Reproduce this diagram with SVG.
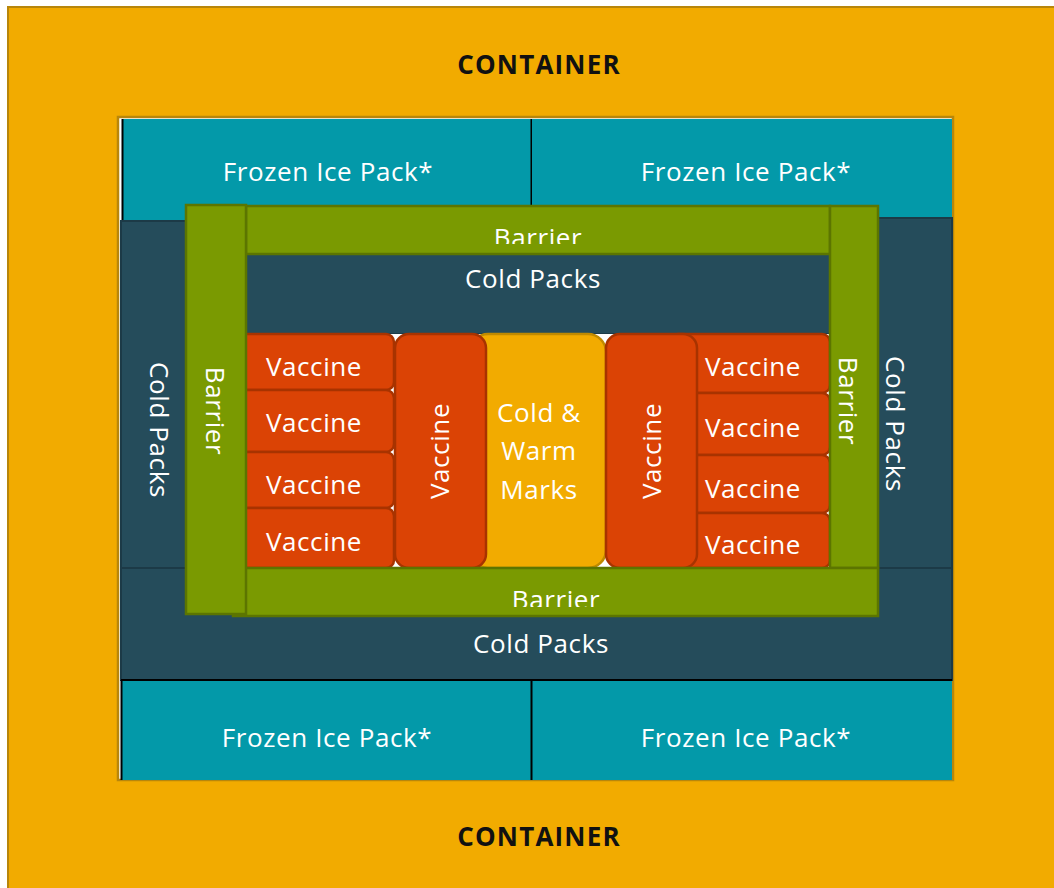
<svg xmlns="http://www.w3.org/2000/svg" width="1054" height="888" viewBox="0 0 1054 888">
<style>
text{font-family:"Open Sans","Liberation Sans",sans-serif;fill:#fff;font-size:26px;letter-spacing:0.6px;text-anchor:middle;dominant-baseline:central}
.title{fill:#111;font-weight:bold;font-size:26px;letter-spacing:1.2px}
.icef{fill:#0399A9}
.blk{stroke:#000;stroke-width:2;fill:none}
.cold{fill:#254C5B;stroke:#1C3A47;stroke-width:2}
.bar{fill:#7A9A01;stroke:#5C7500;stroke-width:2.5}
.vac{fill:#DB4305;stroke:#A83300;stroke-width:2.5}
.marks{fill:#F2AB00;stroke:#C08A00;stroke-width:2.5}
</style>
<defs>
<clipPath id="cTop"><rect x="246" y="206" width="584" height="38"/></clipPath>
<clipPath id="cBot"><rect x="233" y="568" width="645" height="39"/></clipPath>
</defs>
<rect width="1054" height="888" fill="#fff"/>
<g id="container">
<rect x="8" y="7" width="1060" height="900" fill="#F2AB00" stroke="#B8860B" stroke-width="2"/>
<text class="title" x="539" y="64">CONTAINER</text>
<text class="title" x="539" y="836">CONTAINER</text>
</g>
<g id="frame"><rect x="118" y="117" width="835" height="663" fill="#fff" stroke="#B8860B" stroke-width="2.5"/></g>
<g id="ice-top-left"><rect class="icef" x="122" y="119" width="409" height="102"/><path class="blk" d="M122.5 119V221M531.5 119V221"/><text x="328" y="171">Frozen Ice Pack*</text></g>
<g id="ice-top-right"><rect class="icef" x="532" y="119" width="420" height="99"/><text x="746" y="171">Frozen Ice Pack*</text></g>
<g id="cold-left"><rect class="cold" x="121" y="221" width="80" height="347"/><text transform="translate(160 430) rotate(90)">Cold Packs</text></g>
<g id="cold-right"><rect class="cold" x="865" y="218" width="87" height="350"/><text transform="translate(896 424) rotate(90)">Cold Packs</text></g>
<g id="cold-bottom"><rect class="cold" x="121" y="568" width="831" height="112"/><text x="541" y="643">Cold Packs</text></g>
<g id="ice-bottom-left"><rect class="icef" x="121" y="680" width="410" height="100"/><path class="blk" d="M121 680H531M121.5 680V780"/><text x="327" y="737">Frozen Ice Pack*</text></g>
<g id="ice-bottom-right"><rect class="icef" x="531" y="680" width="421" height="100"/><path class="blk" d="M531 680H952M531.5 680V780"/><text x="746" y="737">Frozen Ice Pack*</text></g>
<g id="cold-inner"><rect class="cold" x="246" y="254" width="584" height="80"/><text x="533" y="278">Cold Packs</text></g>
<rect x="246" y="334" width="584" height="234" fill="#fff"/>
<g id="marks"><rect class="marks" x="470" y="334" width="136" height="234" rx="18"/><text x="539" y="412">Cold &amp;</text><text x="539" y="450">Warm</text><text x="539" y="489">Marks</text></g>
<g id="vac-l1"><rect class="vac" x="236" y="334" width="158" height="56" rx="8"/><text x="314" y="366">Vaccine</text></g>
<g id="vac-l2"><rect class="vac" x="236" y="390" width="158" height="62" rx="8"/><text x="314" y="422">Vaccine</text></g>
<g id="vac-l3"><rect class="vac" x="236" y="452" width="158" height="56" rx="8"/><text x="314" y="484">Vaccine</text></g>
<g id="vac-l4"><rect class="vac" x="236" y="508" width="158" height="60" rx="8"/><text x="314" y="541">Vaccine</text></g>
<g id="vac-big-left"><rect class="vac" x="395" y="334" width="91" height="234" rx="14"/><text transform="translate(439 451) rotate(-90)">Vaccine</text></g>
<g id="vac-r1"><rect class="vac" x="670" y="334" width="160" height="59" rx="8"/><text x="753" y="366">Vaccine</text></g>
<g id="vac-r2"><rect class="vac" x="670" y="393" width="160" height="62" rx="8"/><text x="753" y="427">Vaccine</text></g>
<g id="vac-r3"><rect class="vac" x="670" y="455" width="160" height="58" rx="8"/><text x="753" y="488">Vaccine</text></g>
<g id="vac-r4"><rect class="vac" x="670" y="513" width="160" height="55" rx="8"/><text x="753" y="544">Vaccine</text></g>
<g id="vac-big-right"><rect class="vac" x="606" y="334" width="91" height="234" rx="14"/><text transform="translate(651 451) rotate(-90)">Vaccine</text></g>
<g id="barrier-top"><rect class="bar" x="246" y="206" width="584" height="48"/><text x="538" y="237" clip-path="url(#cTop)">Barrier</text></g>
<g id="barrier-right"><rect class="bar" x="830" y="206" width="48" height="362"/><text transform="translate(849 401) rotate(90)">Barrier</text></g>
<g id="barrier-bottom"><rect class="bar" x="233" y="568" width="645" height="48"/><text x="556" y="599" clip-path="url(#cBot)">Barrier</text></g>
<g id="barrier-left"><rect class="bar" x="186" y="205" width="60" height="409"/><text transform="translate(216 411) rotate(90)">Barrier</text></g>
</svg>
